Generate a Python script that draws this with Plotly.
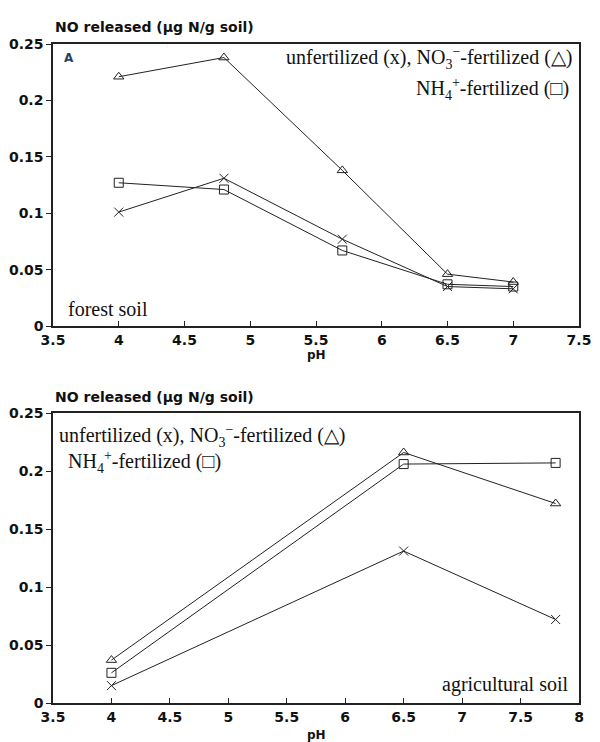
import plotly.graph_objects as go

# Forest soil (top panel)
forest_ph = [4.0, 4.8, 5.7, 6.5, 7.0]
forest_unfert = [0.101, 0.131, 0.077, 0.035, 0.033]
forest_no3 = [0.221, 0.238, 0.138, 0.046, 0.039]
forest_nh4 = [0.127, 0.121, 0.067, 0.037, 0.035]

# Agricultural soil (bottom panel)
agri_ph = [4.0, 6.5, 7.8]
agri_unfert = [0.015, 0.131, 0.072]
agri_no3 = [0.037, 0.216, 0.172]
agri_nh4 = [0.026, 0.206, 0.207]

y_ticks = [0, 0.05, 0.1, 0.15, 0.2, 0.25]
y_ticklabels = ["0", "0.05", "0.1", "0.15", "0.2", "0.25"]
top_xticks = [3.5, 4, 4.5, 5, 5.5, 6, 6.5, 7, 7.5]
bot_xticks = [3.5, 4, 4.5, 5, 5.5, 6, 6.5, 7, 7.5, 8]

fig = go.Figure()

def add_series(x, y, symbol, xa, ya):
    fig.add_trace(go.Scatter(
        x=x, y=y, mode="lines+markers", xaxis=xa, yaxis=ya,
        line=dict(color="#222", width=1),
        marker=dict(symbol=symbol, size=9, color="#222",
                    line=dict(color="#222", width=1)),
        showlegend=False))

add_series(forest_ph, forest_no3, "triangle-up-open", "x", "y")
add_series(forest_ph, forest_unfert, "x-thin-open", "x", "y")
add_series(forest_ph, forest_nh4, "square-open", "x", "y")
add_series(agri_ph, agri_no3, "triangle-up-open", "x2", "y2")
add_series(agri_ph, agri_unfert, "x-thin-open", "x2", "y2")
add_series(agri_ph, agri_nh4, "square-open", "x2", "y2")

tickfont = dict(family="DejaVu Sans", size=14, color="#111", weight="bold")
axis_common = dict(showline=True, linecolor="#222", linewidth=1.5, mirror=True,
                   showgrid=False, zeroline=False, tickfont=tickfont)

fig.update_layout(
    width=600, height=742,
    margin=dict(l=52, r=9, t=44, b=39),
    plot_bgcolor="white", paper_bgcolor="white",
    xaxis=dict(domain=[0, 1], anchor="y", range=[3.5, 7.5], tickvals=top_xticks,
               ticks="inside", ticklen=5, tickcolor="#222", **axis_common),
    yaxis=dict(domain=[0.572, 1], anchor="x", range=[0, 0.25], tickvals=y_ticks,
               ticktext=y_ticklabels, ticks="outside", ticklen=5, tickcolor="#222",
               **axis_common),
    xaxis2=dict(domain=[0, 1], anchor="y2", range=[3.5, 8], tickvals=bot_xticks,
                ticks="inside", ticklen=5, tickcolor="#222", **axis_common),
    yaxis2=dict(domain=[0, 0.44], anchor="x2", range=[0, 0.25], tickvals=y_ticks,
                ticktext=y_ticklabels, ticks="outside", ticklen=5, tickcolor="#222",
                **axis_common),
)

serif = dict(family="Liberation Serif", size=20, color="#111")
sans_bold = dict(family="DejaVu Sans", size=14, color="#111", weight="bold")
ph_font = dict(family="DejaVu Sans", size=12, color="#111", weight="bold")

ann = [
    # axis titles
    dict(text="NO released (µg N/g soil)", xref="x domain", yref="y domain", x=0, y=1.025,
         xanchor="left", yanchor="bottom", font=sans_bold),
    dict(text="pH", xref="x domain", yref="y domain", x=0.5, y=-0.072,
         xanchor="center", yanchor="top", font=ph_font),
    dict(text="NO released (µg N/g soil)", xref="x2 domain", yref="y2 domain", x=0, y=1.02,
         xanchor="left", yanchor="bottom", font=sans_bold),
    dict(text="pH", xref="x2 domain", yref="y2 domain", x=0.5, y=-0.078,
         xanchor="center", yanchor="top", font=ph_font),
    # top panel text
    dict(text="A", xref="x domain", yref="y domain", x=0.018, y=0.95,
         xanchor="left", yanchor="middle", font=dict(family="DejaVu Sans", size=12, weight="bold")),
    dict(text="unfertilized (x), NO<sub>3</sub><sup>−</sup>-fertilized (△)", xref="x domain",
         yref="y domain", x=0.99, y=0.95, xanchor="right", yanchor="middle", font=serif),
    dict(text="NH<sub>4</sub><sup>+</sup>-fertilized (□)", xref="x domain",
         yref="y domain", x=0.985, y=0.84, xanchor="right", yanchor="middle", font=serif),
    dict(text="forest soil", xref="x domain", yref="y domain", x=0.025, y=0.06,
         xanchor="left", yanchor="middle", font=serif),
    # bottom panel text
    dict(text="unfertilized (x), NO<sub>3</sub><sup>−</sup>-fertilized (△)", xref="x2 domain",
         yref="y2 domain", x=0.008, y=0.92, xanchor="left", yanchor="middle", font=serif),
    dict(text="NH<sub>4</sub><sup>+</sup>-fertilized (□)", xref="x2 domain",
         yref="y2 domain", x=0.025, y=0.83, xanchor="left", yanchor="middle", font=serif),
    dict(text="agricultural soil", xref="x2 domain", yref="y2 domain", x=0.985, y=0.065,
         xanchor="right", yanchor="middle", font=serif),
]
fig.update_layout(annotations=[dict(showarrow=False, **a) for a in ann])

fig.write_html("out.html")
